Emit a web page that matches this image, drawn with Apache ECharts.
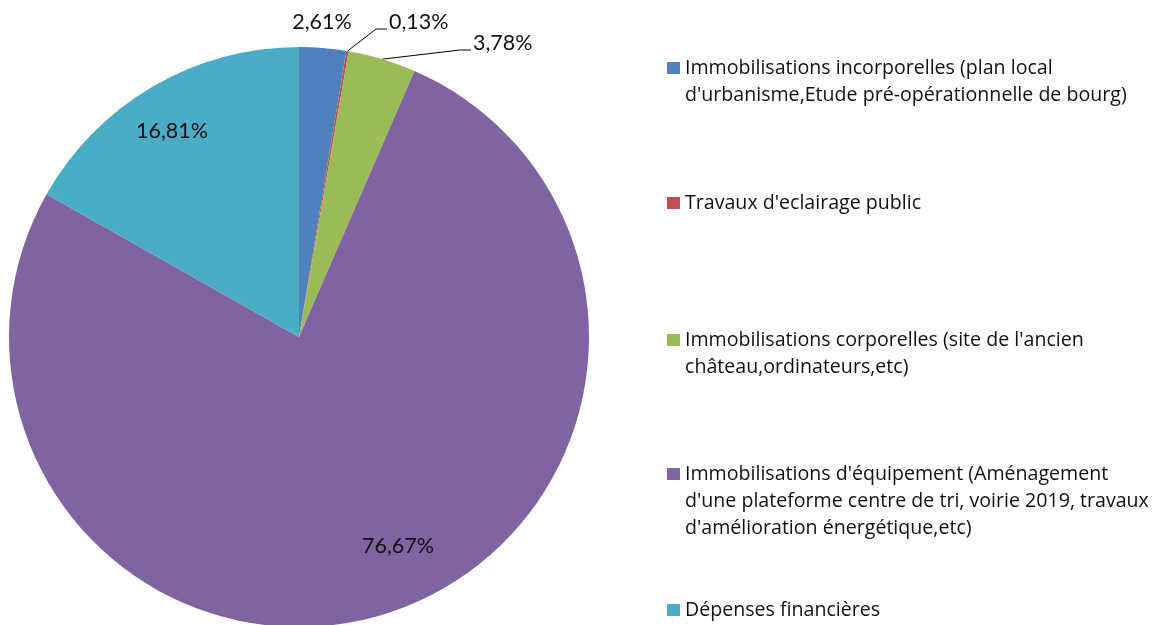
<!DOCTYPE html>
<html>
<head>
<meta charset="utf-8">
<script src="https://cdn.jsdelivr.net/npm/echarts@6/dist/echarts.min.js"></script>
<style>
  html, body { margin: 0; padding: 0; background: #fff; }
  #chart { width: 1165px; height: 625px; }
</style>
</head>
<body>
<div id="chart"></div>
<script>
const categories = [
  "Immobilisations incorporelles (plan local\nd'urbanisme,Etude pré-opérationnelle de bourg)",
  "Travaux d'eclairage public",
  "Immobilisations corporelles (site de l'ancien\nchâteau,ordinateurs,etc)",
  "Immobilisations d'équipement (Aménagement\nd'une plateforme centre de tri, voirie 2019, travaux\nd'amélioration énergétique,etc)",
  "Dépenses financières"
];
const values = [2.61, 0.13, 3.78, 76.67, 16.81];
const colors = ["#4F81BD", "#C0504D", "#9BBB59", "#8064A2", "#4BACC6"];

const chart = echarts.init(document.getElementById("chart"));
const font = "Lato";
const legendFont = "Open Sans";
const cx = 299, cy = 337, R = 290;
const lineH = 27;

// where each percentage label sits
const labelAt = [
  { x: 322, y: 22, align: "center" },
  { x: 389, y: 22, align: "left", line: true },
  { x: 473, y: 43, align: "left", line: true },
  { x: 398, y: 546, align: "center" },
  { x: 172, y: 131, align: "center" },
];
// legend first-line centres
const legendY = [68, 203, 340, 474, 610];

const total = values.reduce((a, b) => a + b, 0);
function midAngle(i) {
  let before = 0;
  for (let k = 0; k < i; k++) before += values[k];
  return (90 - (before + values[i] / 2) / total * 360) * Math.PI / 180;
}

// one legend per entry so the first text line lines up with the square
const legends = categories.map((name, i) => {
  const n = name.split("\n").length;
  const block = (2 * n - 1) * lineH;
  return {
    orient: "vertical",
    left: 667,
    top: legendY[i] - block / 2,
    padding: 0,
    itemWidth: 13,
    itemHeight: 12,
    icon: "rect",
    selectedMode: false,
    data: [name],
    formatter: (nm) => "\n".repeat(n - 1) + nm,
    textStyle: {
      fontFamily: legendFont,
      fontSize: 19.6,
      color: "#111",
      lineHeight: lineH,
    },
  };
});

chart.setOption({
  backgroundColor: "#fff",
  color: colors,
  legend: legends,
  series: [
    {
      type: "pie",
      center: [cx, cy],
      radius: R,
      startAngle: 90,
      clockwise: true,
      avoidLabelOverlap: false,
      animation: false,
      itemStyle: { borderWidth: 0 },
      label: {
        show: true,
        position: "outside",
        fontFamily: font,
        fontSize: 21.5,
        color: "#111",
        formatter: (p) => p.value.toFixed(2).replace(".", ",") + "%",
      },
      labelLine: { show: true, lineStyle: { color: "#000", width: 1 } },
      labelLayout: (p) => {
        const i = p.dataIndex;
        const a = labelAt[i];
        const res = { x: a.x, y: a.y, align: a.align, verticalAlign: "middle" };
        if (a.line) {
          const t = midAngle(i);
          res.labelLinePoints = [
            [cx + R * Math.cos(t), cy - R * Math.sin(t)],
            [a.x - 13, a.y + 7],
            [a.x - 2, a.y + 7],
          ];
        }
        return res;
      },
      data: categories.map((name, i) => ({
        name: name,
        value: values[i],
        labelLine: { show: !!labelAt[i].line },
      })),
    },
  ],
});
</script>
</body>
</html>
